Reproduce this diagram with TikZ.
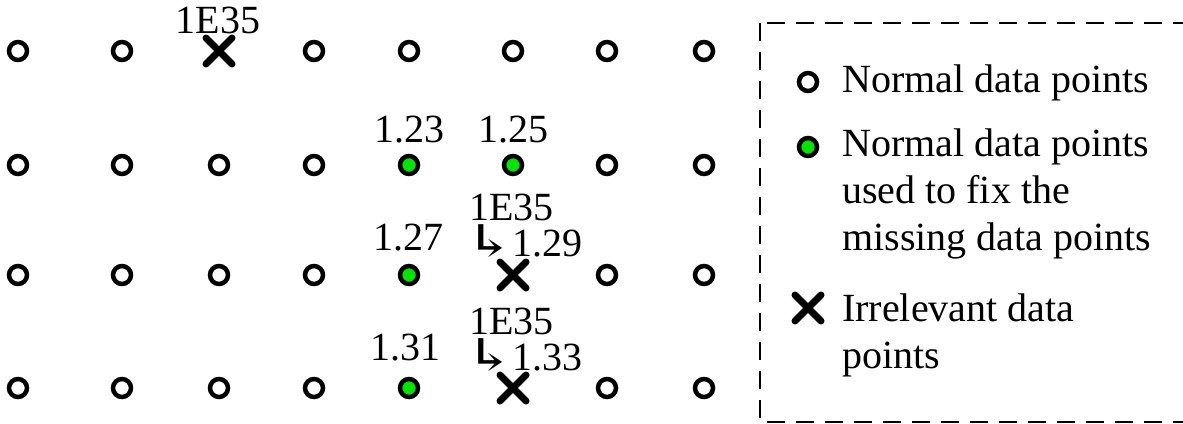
\documentclass[tikz,border=0pt]{standalone}
\usepackage{fontspec}
\setmainfont{Liberation Serif}
\newfontfamily\arrowfont{DejaVu Serif}
\usetikzlibrary{shapes.misc}
\definecolor{ptgreen}{RGB}{0,230,0}
\tikzset{
  ptbase/.style={circle, draw=black, line width=4.5pt, minimum size=18pt, inner sep=0pt},
  pt n/.style={ptbase, fill=white},
  pt g/.style={ptbase, fill=ptgreen},
  pt x/.style={cross out, draw=black, line width=7pt, line cap=round,
               minimum size=19pt, inner sep=0pt},
  lbl/.style={inner sep=0pt, font=\fontsize{40}{36}\selectfont},
  legtxt/.style={inner sep=0pt, align=left, anchor=base west,
                 font=\fontsize{40}{47}\selectfont},
  legbox/.style={draw=black, line width=2.2pt, dash pattern=on 18pt off 11pt},
}
% widened hook arrow with its side bearings trimmed
\newcommand{\hookarrow}{\kern-7pt\scalebox{1.5}[1]{\arrowfont\fontsize{44}{36}\selectfont ↳}\kern-5pt}
\begin{document}
\begin{tikzpicture}[x=1pt, y=-1pt]
  \clip (0,0) rectangle (1183,423);

  % grid of data points: n = normal, g = used for repair, x = irrelevant
  \def\colx{{18,122,219,314,409,513,607,704}}
  \foreach \r/\y/\kinds in {1/51/{n,n,x,n,n,n,n,n},
                            2/165/{n,n,n,n,g,g,n,n},
                            3/275/{n,n,n,n,g,x,n,n},
                            4/388/{n,n,n,n,g,x,n,n}} {
    \foreach \k [count=\c] in \kinds {
      \pgfmathsetmacro\x{\colx[\c-1]}
      \node[pt \k] (p-\r-\c) at (\x,\y) {};
    }
  }

  % values attached to the points (multi-line nodes sit on their last baseline)
  \node[lbl, anchor=base] (v-1-3) at (218,33) {1E35};
  \node[lbl, anchor=base] (v-2-5) at (409,142) {1.23};
  \node[lbl, anchor=base] (v-2-6) at (513,142) {1.25};
  \node[lbl, anchor=base] (v-3-5) at (408,250) {1.27};
  \node[lbl, anchor=base west, align=left] (v-3-6) at (469,256)
       {1E35\\\hookarrow1.29};
  \node[lbl, anchor=base] (v-4-5) at (405,360) {1.31};
  \node[lbl, anchor=base west, align=left] (v-4-6) at (469,370)
       {1E35\\\hookarrow1.33};

  % legend
  \draw[legbox] (760,23) rectangle (1200,422);
  \node[pt n] (k-1) at (808,82) {};
  \node[legtxt] (t-1) at (842,92) {Normal data points};
  \node[pt g] (k-2) at (808,147) {};
  \node[legtxt] (t-2) at (842,250) {Normal data points\\used to fix the\\missing data points};
  \node[pt x] (k-3) at (808,308) {};
  \node[legtxt] (t-3) at (842,368) {Irrelevant data\\points};
\end{tikzpicture}
\end{document}
